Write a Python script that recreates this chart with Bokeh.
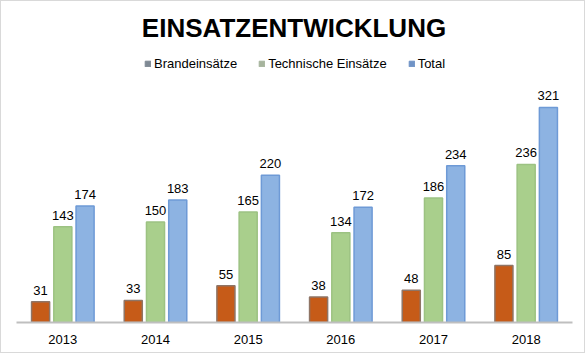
from bokeh.plotting import figure
from bokeh.models import FactorRange, ColumnDataSource, LabelSet, Label, Legend, LegendItem, Range1d
from bokeh.core.properties import value
from bokeh.transform import dodge
from bokeh.embed import file_html
from bokeh.resources import INLINE

years = ["2013", "2014", "2015", "2016", "2017", "2018"]
brand = [31, 33, 55, 38, 48, 85]
technisch = [143, 150, 165, 134, 186, 236]
total = [174, 183, 220, 172, 234, 321]
series_names = ["Brandeinsätze", "Technische Einsätze", "Total"]
title_text = "EINSATZENTWICKLUNG"

src = ColumnDataSource(dict(years=years, brand=brand, technisch=technisch, total=total,
                            brand_t=[str(v) for v in brand],
                            technisch_t=[str(v) for v in technisch],
                            total_t=[str(v) for v in total]))

# frame spans the full height above the axis; title and legend live inside it
frame_h = 321
px_per_unit = 0.6698
p = figure(x_range=FactorRange(*years), y_range=Range1d(0, frame_h / px_per_unit),
           width=585, height=353, output_backend="svg", toolbar_location=None,
           min_border_left=15, min_border_right=14, min_border_top=0, min_border_bottom=32)

font = "Liberation Sans"
off = 0.24
w = 0.195
specs = [("brand", -off, "#c65b18", "#8f7566"),
         ("technisch", 0.0, "#a9cf8c", "#9cc282"),
         ("total", off, "#8db3e2", "#6e9ad6")]
for col, o, fc, lc in specs:
    p.vbar(x=dodge("years", o, range=p.x_range), top=col, width=w, source=src,
           fill_color=fc, line_color=lc, line_width=1.5)
    lbl = LabelSet(x=dodge("years", o, range=p.x_range), y=col, text=col + "_t", source=src,
                   text_align="center", text_baseline="bottom", y_offset=7,
                   text_font=value(font), text_font_size=value("13px"), text_color="#000000")
    p.add_layout(lbl)

# legend swatches (as in the reference)
leg_colors = ["#7f8994", "#a6b49d", "#6f93c6"]
items = []
for name, c in zip(series_names, leg_colors):
    r = p.vbar(x=["2013"], top=[-1000], bottom=[-1001], width=0.1, fill_color=c, line_color=c)
    items.append(LegendItem(label=name, renderers=[r]))
legend = Legend(items=items, orientation="horizontal", location=(128, 251),
                label_text_font=font, label_text_font_size="13px", label_text_color="#000000",
                glyph_width=7, glyph_height=7, label_standoff=3, spacing=21,
                border_line_color=None, background_fill_alpha=0, padding=0, margin=0)
p.add_layout(legend)

title = Label(x=277.5, y=295, x_units="screen", y_units="screen", text=title_text,
              text_align="center", text_baseline="middle", text_font=font,
              text_font_size="26px", text_font_style="bold", text_color="#000000")
p.add_layout(title)

p.yaxis.visible = False
p.xgrid.grid_line_color = None
p.ygrid.grid_line_color = None
p.outline_line_color = None
p.xaxis.axis_line_color = "#bfbfbf"
p.xaxis.axis_line_width = 2
p.xaxis.major_tick_line_color = None
p.xaxis.minor_tick_line_color = None
p.xaxis.major_label_text_font = font
p.xaxis.major_label_text_font_size = "13px"
p.xaxis.major_label_text_color = "#000000"
p.xaxis.major_label_standoff = 6
p.styles = {"border": "1px solid #d9d9d9", "box-sizing": "border-box"}

open("out.html", "w").write(file_html(p, INLINE))
